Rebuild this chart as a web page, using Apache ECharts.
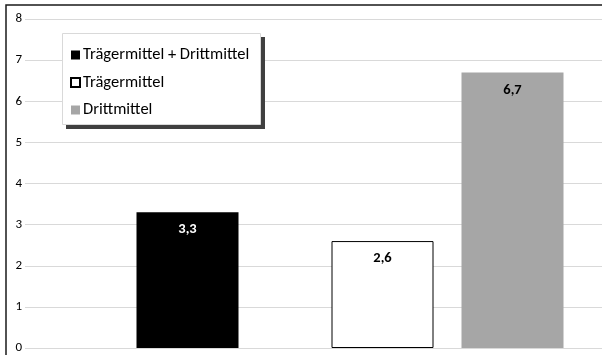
<!DOCTYPE html>
<html>
<head>
<meta charset="utf-8">
<script src="https://cdn.jsdelivr.net/npm/echarts@6/dist/echarts.min.js"></script>
<style>
html,body{margin:0;padding:0;background:#fff;}
#c{width:602px;height:355px;}
</style>
</head>
<body>
<div id="c"></div>
<script>
// Data
const categories = ['Trägermittel + Drittmittel', 'Trägermittel', 'Drittmittel'];
const values = [3.3, 2.6, 6.7];
const valueLabels = ['3,3', '2,6', '6,7'];
const yTicks = [0, 1, 2, 3, 4, 5, 6, 7, 8];

// Layout (not data): horizontal slot of each bar on an evenly divided axis
const slotCount = 9;
const slotOf = [2, 5, 7];
const fills = ['#000000', '#ffffff', '#a6a6a6'];
const borders = ['#000000', '#000000', '#a6a6a6'];
const labelColors = ['#ffffff', '#000000', '#000000'];
const FONT = 'Carlito, Lato, "Liberation Sans", sans-serif';

const slots = Array.from({length: slotCount}, (_, i) => 's' + i);

const series = categories.map((name, k) => {
  const data = slots.map(() => '-');
  data[slotOf[k]] = values[k];
  return {
    name: name,
    type: 'bar',
    data: data,
    barWidth: 102,
    barGap: '-100%',
    itemStyle: { color: fills[k], borderColor: borders[k], borderWidth: k === 1 ? 1 : 0 },
    label: {
      show: true,
      position: 'insideTop',
      distance: 10,
      formatter: () => valueLabels[k],
      color: labelColors[k],
      fontFamily: FONT,
      fontWeight: 'bold',
      fontSize: 14.5
    }
  };
});

const chart = echarts.init(document.getElementById('c'), null, {renderer: 'canvas'});
chart.setOption({
  animation: false,
  backgroundColor: '#ffffff',
  grid: { left: 25, top: 19, bottom: 7, right: -8, containLabel: false, outerBoundsMode: 'none' },
  xAxis: {
    type: 'category',
    data: slots,
    axisLine: { show: false },
    axisTick: { show: false },
    axisLabel: { show: false },
    splitLine: { show: false }
  },
  yAxis: {
    type: 'value',
    min: yTicks[0],
    max: yTicks[yTicks.length - 1],
    interval: 1,
    axisLine: { show: false },
    axisTick: { show: false },
    axisLabel: { margin: 3, color: '#000', fontFamily: FONT, fontSize: 13 },
    splitLine: { show: true, lineStyle: { color: '#d9d9d9', width: 1 } }
  },
  legend: {
    orient: 'vertical',
    left: 62,
    top: 33,
    z: 10,
    data: categories,
    icon: 'rect',
    itemWidth: 9,
    itemHeight: 9,
    itemGap: 9.5,
    padding: [13, 13, 8, 8],
    backgroundColor: 'transparent',
    selectedMode: false,
    textStyle: { color: '#000', fontFamily: FONT, fontSize: 16.5, lineHeight: 18, padding: [0, 0, 0, -2] }
  },
  graphic: [
    {
      type: 'rect', silent: true, z: 5,
      shape: { x: 66, y: 37, width: 199, height: 92 },
      style: { fill: '#404040' }
    },
    {
      type: 'rect', silent: true, z: 6,
      shape: { x: 62.5, y: 33.5, width: 198, height: 91 },
      style: { fill: '#ffffff', stroke: '#d9d9d9', lineWidth: 1 }
    },
    {
      type: 'rect', silent: true, z: 100,
      shape: { x: 6, y: 5, width: 700, height: 500 },
      style: { fill: null, stroke: '#1a1a1a', lineWidth: 1.5 }
    }
  ],
  series: series
});
</script>
</body>
</html>
